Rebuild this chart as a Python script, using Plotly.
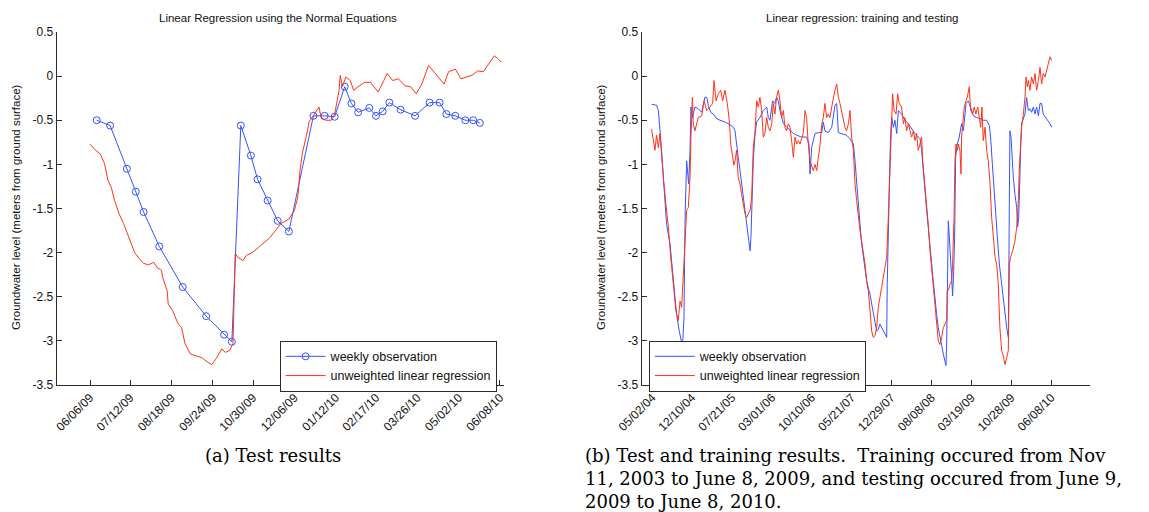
import pandas as pd
import plotly.graph_objects as go

# ---------------- data ----------------
TEST_BASE = "2009-06-06"      # day 0 for the test-period series
TRAIN_BASE = "2004-05-02"     # day 0 for the full-period series

test_obs_days = [6, 18, 33, 41, 48, 62, 83, 104, 120, 127, 135, 144, 150, 159, 168, 178, 200, 210,
                 219, 228, 234, 240, 250, 256, 262, 268, 278, 291, 304, 313, 319, 327, 336, 343, 349]
test_obs_vals = [-0.50, -0.56, -1.05, -1.31, -1.54, -1.93, -2.39, -2.72, -2.93, -3.01, -0.56, -0.90,
                 -1.17, -1.41, -1.64, -1.76, -0.45, -0.45, -0.46, -0.12, -0.31, -0.41, -0.36, -0.45,
                 -0.40, -0.30, -0.38, -0.45, -0.30, -0.30, -0.43, -0.45, -0.50, -0.50, -0.53]

test_reg_days = [0, 5, 9, 13, 16, 19, 22, 26, 30, 35, 40, 44, 48, 52, 57, 60, 64, 65, 69, 70,
                 74, 79, 82, 85, 90, 95, 100, 105, 109, 113, 118, 121, 125, 128, 129, 130, 132, 137, 140, 145,
                 151, 156, 161, 166, 171, 178, 183, 186, 188, 190, 193, 195, 196, 199, 205, 207, 211, 216, 219, 223,
                 224, 226, 229, 233, 236, 241, 246, 251, 258, 263, 266, 271, 276, 282, 287, 292, 297, 303, 307, 312,
                 317, 321, 327, 332, 337, 342, 347, 352, 357, 362, 365, 368]
test_reg_vals = [-0.77, -0.84, -0.88, -0.99, -1.18, -1.26, -1.41, -1.56, -1.67, -1.83,
                 -2.00, -2.07, -2.12, -2.14, -2.11, -2.17, -2.20, -2.28, -2.43, -2.58,
                 -2.66, -2.81, -2.85, -3.03, -3.15, -3.17, -3.19, -3.24, -3.27, -3.20,
                 -3.09, -3.13, -3.11, -3.03, -2.50, -2.01, -2.05, -2.09, -2.03, -2.00,
                 -1.94, -1.88, -1.83, -1.75, -1.67, -1.62, -1.52, -1.37, -1.07, -0.88,
                 -0.73, -0.60, -0.52, -0.46, -0.35, -0.48, -0.50, -0.50, -0.43, -0.16,
                 0.01, -0.12, -0.01, -0.05, -0.16, -0.11, -0.07, -0.07, -0.18, -0.05,
                 0.03, -0.05, -0.03, -0.11, -0.12, -0.20, -0.09, 0.12, 0.06, -0.01,
                 -0.09, 0.05, 0.08, -0.03, -0.01, 0.01, 0.06, 0.05, 0.14, 0.23, 0.20, 0.16]

# (day, value) pairs for the full training + testing period
full_obs = [(-3, -0.32), (24, -0.33), (34, -0.39), (43, -0.58), (52, -0.84), (62, -1.15), (71, -1.45),
            (80, -1.68), (99, -1.90), (112, -2.17), (123, -2.43), (136, -2.70), (151, -2.89), (162, -3.00),
            (170, -3.02), (177, -2.74), (181, -1.98), (184, -1.52), (192, -0.96), (203, -1.22), (211, -0.84),
            (216, -0.35), (225, -0.47), (238, -0.35), (257, -0.37), (276, -0.41), (294, -0.24), (304, -0.24),
            (313, -0.33), (326, -0.41), (341, -0.43), (359, -0.48), (378, -0.50), (406, -0.52), (434, -0.55),
            (453, -0.58), (462, -0.62), (471, -0.81), (480, -0.92), (490, -1.07), (499, -1.22), (508, -1.41),
            (518, -1.56), (527, -1.71), (536, -1.87), (546, -1.98), (551, -1.83), (557, -1.37), (564, -0.96),
            (574, -0.65), (583, -0.52), (601, -0.47), (620, -0.39), (639, -0.35), (648, -0.47), (657, -0.50),
            (672, -0.28), (685, -0.31), (694, -0.24), (704, -0.28), (713, -0.39), (732, -0.54), (760, -0.60),
            (788, -0.65), (806, -0.67), (834, -0.69), (862, -0.69), (875, -0.77), (881, -1.11), (890, -0.81),
            (899, -0.73), (909, -0.65), (927, -0.64), (946, -0.64), (955, -0.52), (964, -0.62), (983, -0.64),
            (1002, -0.58), (1020, -0.33), (1030, -0.31), (1039, -0.64), (1057, -0.65), (1085, -0.67),
            (1104, -0.71), (1123, -0.77), (1132, -0.96), (1141, -1.22), (1150, -1.41), (1160, -1.68),
            (1169, -1.90), (1178, -2.05), (1188, -2.21), (1197, -2.32), (1206, -2.40), (1216, -2.47),
            (1225, -2.58), (1234, -2.70), (1244, -2.79), (1253, -2.89), (1262, -2.87), (1271, -2.81),
            (1281, -2.85), (1294, -2.91), (1309, -2.96), (1312, -2.36), (1318, -1.60), (1324, -1.22),
            (1331, -0.65), (1337, -0.47), (1346, -0.58), (1355, -0.50), (1365, -0.65), (1374, -0.39),
            (1392, -0.43), (1411, -0.50), (1430, -0.54), (1448, -0.60), (1467, -0.65), (1476, -0.67),
            (1495, -0.71), (1504, -0.84), (1510, -1.00), (1517, -1.15), (1523, -1.34), (1532, -1.52),
            (1541, -1.71), (1551, -1.90), (1560, -2.13), (1569, -2.32), (1579, -2.55), (1588, -2.70),
            (1597, -2.85), (1606, -2.96), (1616, -3.04), (1625, -3.15), (1634, -3.23), (1640, -3.28),
            (1644, -3.00), (1647, -2.36), (1653, -1.64), (1659, -1.83), (1666, -2.13), (1672, -2.36),
            (1677, -2.49), (1683, -2.21), (1688, -1.83), (1694, -0.92), (1703, -0.77), (1714, -0.69),
            (1727, -0.54), (1737, -0.62), (1752, -0.31), (1765, -0.28), (1780, -0.37), (1793, -0.45),
            (1811, -0.47), (1830, -0.48), (1848, -0.50), (1867, -0.50), (1882, -0.56), (1889, -0.69),
            (1900, -1.03), (1914, -1.52), (1927, -1.83), (1938, -2.13), (1951, -2.36), (1960, -2.58),
            (1969, -2.74), (1979, -2.85), (1988, -2.96), (1992, -1.98), (1997, -0.62), (2003, -0.69),
            (2009, -0.92), (2016, -1.15), (2025, -1.34), (2035, -1.49), (2040, -1.71), (2046, -1.60),
            (2050, -1.34), (2053, -1.00), (2057, -0.81), (2062, -0.54), (2072, -0.47), (2081, -0.43),
            (2090, -0.24), (2100, -0.39), (2109, -0.37), (2118, -0.41), (2128, -0.35), (2137, -0.43),
            (2146, -0.35), (2156, -0.45), (2165, -0.31), (2174, -0.31), (2183, -0.43), (2202, -0.48),
            (2221, -0.54), (2230, -0.58)]

full_reg = [(-4, -0.60), (6, -0.73), (15, -0.84), (24, -0.67), (34, -0.81), (43, -0.65), (52, -0.92),
            (62, -1.15), (76, -1.45), (90, -1.71), (103, -2.05), (117, -2.36), (132, -2.66), (145, -2.77),
            (155, -2.55), (164, -2.62), (173, -2.28), (183, -1.75), (192, -1.52), (201, -1.49), (211, -1.15),
            (216, -0.69), (224, -0.24), (229, -0.54), (238, -0.62), (257, -0.47), (276, -0.45), (289, -0.28),
            (304, -0.39), (322, -0.35), (337, -0.31), (345, -0.05), (356, -0.28), (369, -0.20), (382, -0.16),
            (393, -0.28), (406, -0.16), (419, -0.31), (430, -0.50), (438, -0.77), (449, -0.96), (456, -1.01),
            (462, -0.96), (471, -0.84), (480, -1.15), (490, -1.22), (499, -1.34), (508, -1.45), (518, -1.56),
            (527, -1.60), (536, -1.56), (546, -1.52), (555, -1.37), (564, -0.81), (574, -0.62), (583, -0.28),
            (592, -0.35), (601, -0.24), (611, -0.39), (620, -0.69), (629, -0.65), (639, -0.47), (648, -0.58),
            (657, -0.62), (667, -0.54), (676, -0.31), (685, -0.43), (694, -0.24), (704, -0.16), (713, -0.28),
            (722, -0.47), (732, -0.39), (741, -0.58), (750, -0.62), (760, -0.54), (769, -0.58), (778, -0.73),
            (788, -0.92), (797, -0.69), (806, -0.77), (816, -0.73), (825, -0.77), (843, -0.65), (853, -0.39),
            (862, -0.47), (871, -0.77), (881, -0.96), (890, -1.03), (899, -1.07), (909, -1.00), (918, -1.07),
            (927, -0.92), (936, -0.80), (946, -0.55), (955, -0.47), (964, -0.31), (974, -0.47), (983, -0.43),
            (992, -0.47), (1002, -0.35), (1011, -0.24), (1020, -0.16), (1030, -0.09), (1039, -0.24),
            (1048, -0.31), (1057, -0.39), (1067, -0.47), (1076, -0.58), (1085, -0.62), (1095, -0.54),
            (1104, -0.39), (1113, -0.69), (1123, -0.84), (1132, -1.22), (1141, -1.41), (1150, -1.60),
            (1160, -1.75), (1169, -1.87), (1178, -1.98), (1188, -2.13), (1197, -2.32), (1206, -2.43),
            (1216, -2.66), (1225, -2.89), (1234, -2.96), (1244, -2.94), (1253, -2.85), (1262, -2.62),
            (1271, -2.51), (1281, -2.40), (1290, -2.28), (1299, -2.17), (1309, -2.05), (1318, -1.60),
            (1327, -1.11), (1337, -0.47), (1342, -0.20), (1350, -0.39), (1361, -0.43), (1370, -0.20),
            (1379, -0.31), (1392, -0.35), (1402, -0.54), (1411, -0.47), (1420, -0.62), (1430, -0.54),
            (1439, -0.62), (1448, -0.69), (1458, -0.62), (1467, -0.73), (1476, -0.65), (1485, -0.84),
            (1495, -0.77), (1504, -0.69), (1510, -0.96), (1517, -1.11), (1525, -1.30), (1532, -1.49),
            (1541, -1.68), (1551, -1.98), (1560, -2.17), (1569, -2.40), (1579, -2.58), (1588, -2.85),
            (1597, -3.00), (1606, -3.04), (1616, -2.96), (1625, -2.85), (1634, -2.81), (1644, -2.77),
            (1647, -2.43), (1653, -2.43), (1662, -2.36), (1672, -2.32), (1677, -2.13), (1685, -1.60),
            (1690, -0.96), (1696, -0.77), (1703, -0.84), (1709, -0.77), (1718, -0.84), (1724, -1.11),
            (1727, -0.69), (1737, -0.47), (1742, -0.35), (1752, -0.28), (1759, -0.24), (1770, -0.12),
            (1778, -0.39), (1789, -0.43), (1798, -0.35), (1807, -0.43), (1817, -0.35), (1826, -0.47),
            (1834, -0.58), (1841, -0.35), (1848, -0.73), (1858, -0.58), (1867, -0.84), (1876, -0.96),
            (1886, -1.22), (1895, -1.60), (1904, -1.83), (1914, -2.05), (1923, -2.13), (1932, -2.36),
            (1941, -2.85), (1951, -3.11), (1960, -3.17), (1969, -3.27), (1979, -3.19), (1988, -3.11),
            (1994, -2.13), (2001, -2.05), (2012, -1.98), (2025, -1.87), (2035, -1.71), (2044, -1.41),
            (2049, -1.07), (2057, -0.65), (2062, -0.58), (2072, -0.43), (2081, -0.24), (2087, -0.01),
            (2094, -0.12), (2100, -0.05), (2109, -0.16), (2118, -0.01), (2128, -0.09), (2137, 0.03),
            (2146, -0.16), (2156, -0.05), (2165, 0.10), (2174, -0.09), (2183, 0.03), (2193, -0.01),
            (2202, 0.06), (2211, 0.12), (2221, 0.22), (2230, 0.18)]

test_ticks = ["2009-06-06", "2009-07-12", "2009-08-18", "2009-09-24", "2009-10-30", "2009-12-06",
              "2010-01-12", "2010-02-17", "2010-03-26", "2010-05-02", "2010-06-08"]
test_tick_labels = ["06/06/09", "07/12/09", "08/18/09", "09/24/09", "10/30/09", "12/06/09",
                    "01/12/10", "02/17/10", "03/26/10", "05/02/10", "06/08/10"]
full_ticks = ["2004-05-02", "2004-12-10", "2005-07-21", "2006-03-01", "2006-10-10", "2007-05-21",
              "2007-12-29", "2008-08-08", "2009-03-19", "2009-10-28", "2010-06-08"]
full_tick_labels = ["05/02/04", "12/10/04", "07/21/05", "03/01/06", "10/10/06", "05/21/07",
                    "12/29/07", "08/08/08", "03/19/09", "10/28/09", "06/08/10"]
y_ticks = [0.5, 0, -0.5, -1, -1.5, -2, -2.5, -3, -3.5]
y_tick_labels = ["0.5", "0", "-0.5", "-1", "-1.5", "-2", "-2.5", "-3", "-3.5"]

# ---------------- build ----------------
def dates(base, days):
    return pd.Timestamp(base) + pd.to_timedelta(list(days), unit="D")

BLUE = "#3553ff"
RED = "#ff3219"
AX = "#2b2b2b"
SANS = "Liberation Sans, Arial, sans-serif"
SERIF = "DejaVu Serif, Liberation Serif, serif"

fig = go.Figure()
fig.add_trace(go.Scatter(x=dates(TEST_BASE, test_obs_days), y=test_obs_vals, mode="lines+markers",
                         name="weekly observation", line=dict(color=BLUE, width=1),
                         marker=dict(symbol="circle-open", size=7, color=BLUE, line=dict(width=1)),
                         xaxis="x", yaxis="y", legend="legend"))
fig.add_trace(go.Scatter(x=dates(TEST_BASE, test_reg_days), y=test_reg_vals, mode="lines",
                         name="unweighted linear regression", line=dict(color=RED, width=1),
                         xaxis="x", yaxis="y", legend="legend"))
fig.add_trace(go.Scatter(x=dates(TRAIN_BASE, [d for d, _ in full_obs]), y=[v for _, v in full_obs],
                         mode="lines", name="weekly observation", line=dict(color=BLUE, width=1),
                         xaxis="x2", yaxis="y2", legend="legend2"))
fig.add_trace(go.Scatter(x=dates(TRAIN_BASE, [d for d, _ in full_reg]), y=[v for _, v in full_reg],
                         mode="lines", name="unweighted linear regression", line=dict(color=RED, width=1),
                         xaxis="x2", yaxis="y2", legend="legend2"))

W, H = 1149, 512
def px(x):
    return x / W
def py(y):
    return 1 - y / H

common_x = dict(type="date", tickangle=-45, ticks="inside", ticklen=5, tickcolor=AX,
                showline=True, linecolor=AX, linewidth=1, showgrid=False, zeroline=False,
                automargin=False, tickfont=dict(family=SANS, size=12, color="#111"))
common_y = dict(range=[-3.5, 0.5], tickvals=y_ticks, ticktext=y_tick_labels, ticks="inside",
                ticklen=5, tickcolor=AX, showline=True, linecolor=AX, linewidth=1, showgrid=False,
                zeroline=False, automargin=False, tickfont=dict(family=SANS, size=12, color="#111"))

legend_common = dict(bgcolor="white", bordercolor=AX, borderwidth=1, itemwidth=40,
                     font=dict(family=SANS, size=12.5, color="#111"),
                     xanchor="left", yanchor="top", tracegroupgap=0)

fig.update_layout(
    template="none",
    width=W, height=H, margin=dict(l=0, r=0, t=0, b=0, pad=0), autosize=False,
    paper_bgcolor="white", plot_bgcolor="white", showlegend=True,
    xaxis=dict(domain=[px(56.7), px(503.7)], anchor="y",
               range=["2009-05-07 04:00", "2010-06-11 08:00"],
               tickvals=test_ticks, ticktext=test_tick_labels, **common_x),
    yaxis=dict(domain=[py(385), py(32)], anchor="x", **common_y),
    xaxis2=dict(domain=[px(641.7), px(1089.8)], anchor="y2",
                range=["2004-03-04", "2011-01-09"],
                tickvals=full_ticks, ticktext=full_tick_labels, **common_x),
    yaxis2=dict(domain=[py(385), py(32)], anchor="x2", **common_y),
    legend=dict(x=px(279.6), y=py(340.7), **legend_common),
    legend2=dict(x=px(648.8), y=py(340.7), **legend_common),
)

ann = []
ann.append(dict(text="Linear Regression using the Normal Equations", x=px(278), y=py(18),
                font=dict(family=SANS, size=11.5, color="#111")))
ann.append(dict(text="Linear regression: training and testing", x=px(862), y=py(18),
                font=dict(family=SANS, size=11.5, color="#111")))
ylab = "Groundwater level (meters from ground surface)"
ann.append(dict(text=ylab, x=px(16), y=py(207), textangle=-90, font=dict(family=SANS, size=11.5, color="#111")))
ann.append(dict(text=ylab, x=px(601), y=py(207), textangle=-90, font=dict(family=SANS, size=11.5, color="#111")))
ann.append(dict(text="(a) Test results", x=px(273), y=py(455),
                font=dict(family=SERIF, size=18, color="#000")))
cap_b = ["(b) Test and training results.  Training occured from Nov",
         "11, 2003 to June 8, 2009, and testing occured from June 9,",
         "2009 to June 8, 2010."]
for i, line in enumerate(cap_b):
    ann.append(dict(text=line, x=px(583), y=py(455 + 23 * i), xanchor="left",
                    font=dict(family=SERIF, size=18, color="#000")))
for a in ann:
    a.setdefault("xanchor", "center")
    a.update(xref="paper", yref="paper", yanchor="middle", showarrow=False)
fig.update_layout(annotations=ann)

fig.write_html("out.html")
